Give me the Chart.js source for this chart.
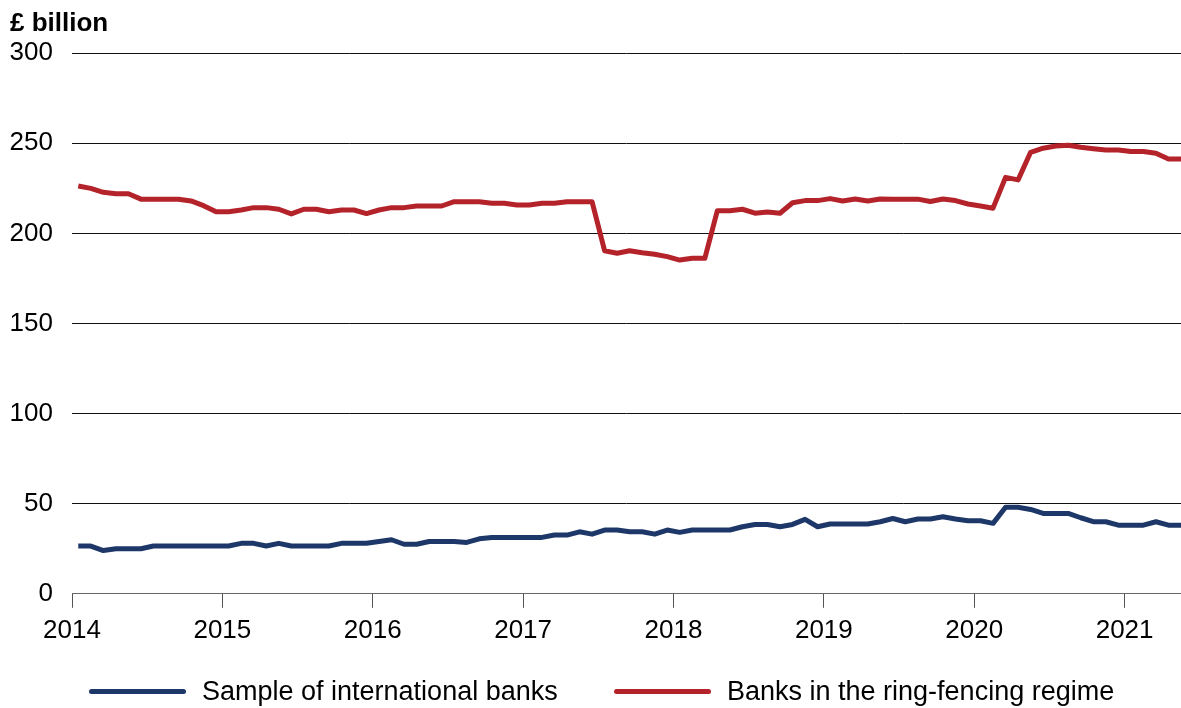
<!DOCTYPE html>
<html>
<head>
<meta charset="utf-8">
<script src="https://cdn.jsdelivr.net/npm/chart.js@4/dist/chart.umd.min.js"></script>
<style>
  html,body{margin:0;padding:0;background:#fff;}
  #wrap{position:relative;width:1181px;height:708px;}
  #legend .leg-item{position:absolute;top:678px;height:26px;display:flex;align-items:center;
    font-family:"Liberation Sans",Arial,Helvetica,sans-serif;font-size:27px;color:#000;white-space:nowrap;}
  #legend .leg-line{width:97px;height:5px;border-radius:3px;margin-right:16px;}
</style>
</head>
<body>
<div id="wrap">
  <canvas id="chart" width="1181" height="708"></canvas>
  <div id="legend"></div>
</div>
<script>
/* ═══════════════════════════════════
   DATA  (monthly, Jan 2014 – May 2021, £ billion)
═══════════════════════════════════ */
var START_YEAR = 2014;
var N_MONTHS = 89;
var yearTicks = [2014,2015,2016,2017,2018,2019,2020,2021];
var yTicks = [0,50,100,150,200,250,300];

var seriesNames = ['Sample of international banks','Banks in the ring-fencing regime'];
var seriesColors = ['#1d3868','#b5232a'];

var intlBanks = [
  26.5,26.5,24,25,25,25,26.5,26.5,26.5,26.5,
  26.5,26.5,26.5,28,28,26.5,28,26.5,26.5,26.5,
  26.5,28,28,28,29,30,27.5,27.5,29,29,
  29,28.5,30.5,31.3,31.3,31.3,31.3,31.3,32.6,32.6,
  34.4,33.1,35.4,35.4,34.4,34.4,33.1,35.4,34.1,35.4,
  35.4,35.4,35.4,37.2,38.5,38.5,37.2,38.5,41.3,37.2,
  38.7,38.7,38.7,38.7,40,41.8,40,41.5,41.5,42.8,
  41.5,40.5,40.5,39.1,48,48,46.8,44.6,44.6,44.6,
  42.2,40,40,38.1,38.1,38.1,40,38.1,38.1
];

var ringFenced = [
  226.3,225,222.8,222,222,219,219,219,219,218,
  215.4,212,212,213,214.3,214.3,213.4,210.8,213.4,213.4,
  212,213,213,211,213,214.3,214.3,215.2,215.2,215.2,
  217.6,217.6,217.6,216.7,216.7,215.8,215.8,216.7,216.7,217.6,
  217.6,217.6,190.4,189,190.4,189.3,188.4,187.1,185.2,186.2,
  186.2,212.6,212.6,213.4,211.2,211.9,211.2,217,218.2,218.2,
  219.3,218,219.1,218,219.1,219,219,219,217.7,219.1,
  218.2,216.3,215.2,214,231.1,229.7,245,247.3,248.5,248.9,
  247.8,247,246.3,246.3,245.4,245.4,244.5,241.3,241.3
];

/* month -> position on the year axis (mid-month) */
function monthX(i){ return START_YEAR + (i + 0.5) / 12; }

function toPoints(vals){
  return vals.map(function(v,i){ return {x:monthX(i), y:v}; });
}

/* ═══════════════════════════════════
   CHART
═══════════════════════════════════ */
Chart.defaults.font.family = '"Liberation Sans", Arial, Helvetica, sans-serif';
Chart.defaults.font.size = 26;
Chart.defaults.color = '#000';

function buildChart(){
  var ctx = document.getElementById('chart');
  new Chart(ctx, {
    type:'line',
    data:{
      datasets:[
        {label:seriesNames[0], data:toPoints(intlBanks), borderColor:seriesColors[0], backgroundColor:seriesColors[0],
         borderWidth:5, pointRadius:0, tension:0, borderJoinStyle:'round', fill:false},
        {label:seriesNames[1], data:toPoints(ringFenced), borderColor:seriesColors[1], backgroundColor:seriesColors[1],
         borderWidth:5, pointRadius:0, tension:0, borderJoinStyle:'round', fill:false}
      ]
    },
    options:{
      responsive:false,
      animation:false,
      layout:{padding:{left:10,right:0,top:0,bottom:55}},
      plugins:{
        legend:{display:false},
        tooltip:{enabled:false},
        title:{display:true, text:'£ billion', align:'start', color:'#000',
               font:{size:26, weight:'bold'}, padding:{top:8,bottom:14}}
      },
      scales:{
        x:{
          type:'linear',
          min:yearTicks[0],
          max:START_YEAR + (N_MONTHS - 0.5) / 12,
          afterBuildTicks:function(axis){
            axis.ticks = yearTicks.map(function(v){ return {value:v}; });
          },
          ticks:{autoSkip:false, maxRotation:0, padding:7,
                 callback:function(v){ return String(v); }},
          grid:{drawOnChartArea:false, drawTicks:true, tickLength:14, color:'#555', lineWidth:1},
          border:{display:true, color:'#666', width:1}
        },
        y:{
          min:0, max:300,
          afterBuildTicks:function(axis){
            axis.ticks = yTicks.map(function(v){ return {value:v}; });
          },
          afterFit:function(axis){ axis.width = 62; },
          ticks:{padding:19},
          grid:{drawTicks:false, lineWidth:1,
                color:function(c){ return c.tick && c.tick.value === 0 ? '#666' : '#111'; }},
          border:{display:false}
        }
      }
    }
  });
}

/* LEGEND */
function buildLegend(){
  var lefts = [89, 614];
  document.getElementById('legend').innerHTML = seriesNames.map(function(n,i){
    return '<div class="leg-item" style="left:'+lefts[i]+'px;">'
      +'<span class="leg-line" style="background:'+seriesColors[i]+';"></span>'
      +'<span>'+n+'</span>'
      +'</div>';
  }).join('');
}

buildChart();
buildLegend();
</script>
</body>
</html>
